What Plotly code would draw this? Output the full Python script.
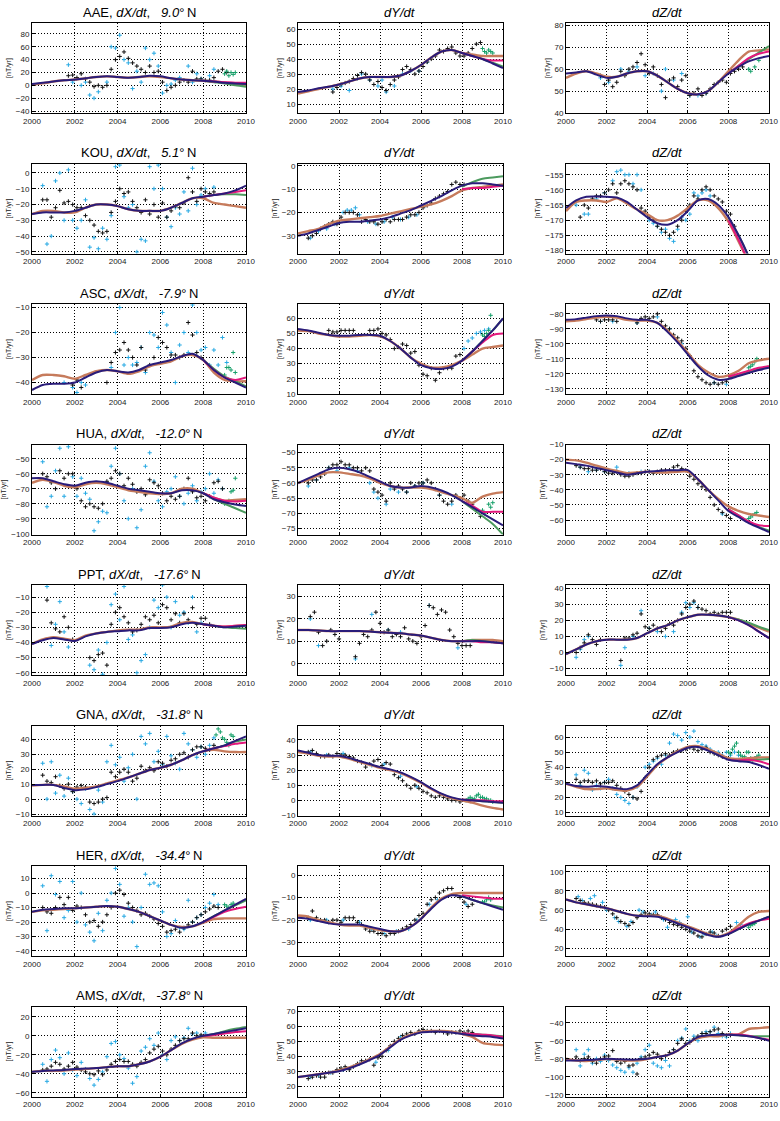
import plotly.graph_objects as go

# ---------------- shared axes data ----------------
LINE_T = [2000 + 0.5 * i for i in range(21)]
TAIL_T = [2008.0, 2008.5, 2009.0, 2009.5, 2010.0]
X_TICKS = [2000, 2002, 2004, 2006, 2008, 2010]
STATIONS = ["AAE", "KOU", "ASC", "HUA", "PPT", "GNA", "HER", "AMS"]
LATS = ["9.0", "5.1", "-7.9", "-12.0", "-17.6", "-31.8", "-34.4", "-37.8"]
COMPONENTS = ["dX/dt", "dY/dt", "dZ/dt"]
Y_UNIT = "[nT/yr]"

# ---------------- AAE ----------------
AAE_X_blue = [2, 4, 6, 8, 9, 11, 13, 14, 13, 12, 13, 15, 14, 11, 9, 8, 7, 6, 4, 3, 2]
AAE_X_brown = [1, 3, 6, 8, 9, 11, 13, 14, 13, 12, 13, 14, 13, 11, 9, 8, 7, 6, 4, 2, 1]
AAE_X_mag = [7, 6, 5, 4, 4]
AAE_X_grn = [7, 5, 3, 0, -2]
AAE_X_blk = [15, 16, 12, 18, 10, 5, -2, 0, -3, 0, 25, 40, 45, 52, 42, 35, 30, 25, 20, 30, 20, 22, 5, -8, -3, 0, 5, 8, 5, 22, 10, 10, 8, 8, 12, 22, 25, 20]
AAE_X_cyn = [32, 5, None, 0, 5, -15, -20, -10, None, 5, 60, 58, 78, 40, 35, -5, 22, 5, 58, 40, 50, 30, -12, 0, 2, 8, 12, None, 30, 5, 18, 10, None, 15, 25]
AAE_X_gp = [18, 22, 15, 20, 17, 20]
AAE_X_t0 = [2001.7, 2001.7, 2009.0]

AAE_Y_blue = [18, 19, 20.5, 21.5, 23, 25, 27, 28, 28, 28, 29, 32, 36, 41, 45, 46, 44, 42, 40, 37, 34]
AAE_Y_brown = [17, 18.5, 20, 21.5, 23, 25, 27, 28, 28, 28, 29, 32, 36, 41, 45, 46, 44, 43, 42, 42, 42]
AAE_Y_mag = [44, 42, 40, 39, 39]
AAE_Y_grn = [44, 42, 40, 37.5, 35]
AAE_Y_blk = [18, 21, 23, 24, 25, 27, 29, 31, 30, 26, 23, 25, 21, 19, 23, 26, 28, 33, 35, 33, 30, 32, 35, 38, 40, 42, 46, 45, 47, 48, 44, 42, 42, 44, 47, 50, 51]
AAE_Y_cyn = [20, None, 22, None, 19, None, 27, 30, None, 26, None, 22, 26, 18, None, 22, None, 30, None, 32, None, 32, None, 38]
AAE_Y_gp = [47, 45, 44, 46, 45, 44]
AAE_Y_t0 = [2001.7, 2001.7, 2009.0]

AAE_Z_blue = [58, 58.5, 59, 57.5, 56, 56.5, 58, 59, 59, 57, 54, 51, 49, 48.5, 50, 54, 58, 61, 63.5, 65, 66]
AAE_Z_brown = [56, 58, 59, 58, 56.5, 56.5, 58, 59, 59, 57, 54, 51, 49, 48.5, 50, 54, 59, 64, 68, 68.5, 69]
AAE_Z_mag = [58, 61.5, 65, 67, 68]
AAE_Z_grn = [58, 61.5, 64.5, 67.5, 70.5]
AAE_Z_blk = [57, 53, 55, 52, 54, 59, 57, 60, 61, 63, 67, 62, 58, 61, 57, 53, 47, 55, 56, 52, 55, 57, 48, 49, 51, 48, 49, 51, 53, 54, 55, 54, 58, 59, 60, 61]
AAE_Z_cyn = [56, None, 54, None, None, 60, None, 59, None, 61, None, 57, None, 58, None, 50, 60, None, 55, None, 58, None, 48, None, 48, None, 49]
AAE_Z_gp = [60, 59, None, 61, None, 64]
AAE_Z_t0 = [2001.7, 2001.7, 2009.0]

# ---------------- KOU ----------------
KOU_X_blue = [-26, -25, -25, -25, -24, -22, -20, -20, -21, -23, -24, -24, -24, -22, -19, -16, -15, -14, -13, -11, -8]
KOU_X_brown = [-26, -24, -24, -25, -25, -22, -20, -20, -21, -23, -24, -24, -24, -22, -19, -16, -16, -19, -20, -21, -22]
KOU_X_mag = [-15, -14, -13, -12, -11]
KOU_X_grn = [-15, -14, -13.5, -13.5, -14]
KOU_X_blk = [-17, -17, -28, -22, -11, -19, -18, -20, -22, -22, -27, -30, -33, -37, -38, -37, -25, -18, -10, -13, -12, -18, -22, -25, -17, -26, -20, -28, -19, -28, -24, -21, -22, -19, -3, -12, -18, -10, -12, -13, -12]
KOU_X_cyn = [-8, -45, -40, -5, 0, -30, 2, -30, -35, -30, -17, -47, -41, -48, -35, -42, -27, 4, 5, -15, -22, -20, -50, -42, -43, 4, -10, 5, -10, -28, -34, -22, -26, -12, -24, 3, -20, -14, -10, -14, -9]
KOU_X_gp = []
KOU_X_t0 = [2000.5, 2000.5, 2009.0]

KOU_Y_blue = [-30, -29, -27.5, -26, -24.5, -24, -24, -23.5, -23, -22, -20.5, -19, -17, -15, -13, -10.5, -8.5, -7.5, -7.5, -8, -8.5]
KOU_Y_brown = [-29, -28, -27, -25, -23.5, -23, -22.5, -22, -21.5, -20.5, -19.5, -18.5, -17.5, -16.5, -15, -13, -10.5, -9.5, -9, -8.5, -8]
KOU_Y_mag = [-10, -9.5, -9.5, -9, -8.5]
KOU_Y_grn = [-9, -7, -5.5, -5, -4.5]
KOU_Y_blk = [-31, -30, -29, -27, -26, -25, -24, -25, -22, -20, -20, -20, -21, -24, -23, -24, -24, -25, -24, -23, -24, -23, -23, -23, -22, -21, -21, -20, -18, -17, -16, -14, -13, -12, -11, -8, -7, -8, -8]
KOU_Y_cyn = [-31, None, -28, None, -27, None, -25, None, -20, -19, -19, -18, -21, None, -24, None, -25, None, -24, None, -22, None, -23, None, -22, None, -21, None, -17]
KOU_Y_gp = []
KOU_Y_t0 = [2000.5, 2000.6, 2009.0]

KOU_Z_blue = [-166, -163.5, -162.3, -162.2, -162.3, -162.5, -164, -166.5, -169, -171, -171.5, -170, -167, -163.5, -163, -165, -169, -175, -182, -190, -198]
KOU_Z_brown = [-167, -164, -163.5, -163.5, -164, -162.8, -164.5, -166.5, -168, -170, -170, -168.5, -166, -163.5, -163.5, -166, -170.5, -177, -184, -192, -200]
KOU_Z_mag = [-170, -176.5, -184, -192, -200]
KOU_Z_grn = [-169, -175, -182, -190, -198]
KOU_Z_blk = [-169, -165, -166, -163, -162, -162, -161, -160, -158, -161, -158, -157, -158, -159, -160, -166, -167, -169, -170, -172, -173, -174, -175, -174, -172, -170, -167, -165, -162, -163, -160, -159, -160, -162, -163, -164, -167, -168, -172]
KOU_Z_cyn = [-165, None, -168, -168, None, -163, None, -161, None, -157, -154, -153.5, -155, -155, -158, -155, -160, None, -170, -171, -172, -174, -173, -176, -177, -173, -169, -170, -168, -161, -162, -161, -160, -162]
KOU_Z_gp = []
KOU_Z_t0 = [2000.7, 2000.5, 2009.0]

# ---------------- ASC ----------------
ASC_X_blue = [-43, -41, -40.5, -40.5, -40, -38, -36, -35, -35.5, -36, -35, -33, -32, -31, -29.5, -28.5, -31, -35, -38, -40, -42]
ASC_X_brown = [-39, -37, -37, -37.5, -38.5, -37, -35.5, -35, -35.5, -36.5, -35.5, -33.5, -32.5, -31.5, -29.5, -29, -31, -36, -39, -39.5, -39.5]
ASC_X_mag = [-31, -35, -38, -39, -38]
ASC_X_grn = [-31, -34.5, -37.5, -39.5, -41.5]
ASC_X_blk = [-41, -39, -42, None, None, None, None, None, -40, -32, -28, -27, -24, -27, -30, -33, -26, -35, -33, -30, -22, -24, -26, -29, -29, -30, -29, -16, -21, -28, -30]
ASC_X_cyn = [-40, None, -42, -44, -40, -41, None, None, None, None, None, -34, -20, -10, -33, -30, -33, -32, -26, -36, -20, -21, -26, -12, -17, -28, -40, -25, -20, -28, -9, -20, -27, -26, -33, -27, -33, -22, -32]
ASC_X_gp = [-37, -34, -34, -35, -28, -36]
ASC_X_t0 = [2001.9, 2001.5, 2009.0]

ASC_Y_blue = [53, 52, 50.5, 49, 48.5, 48.5, 49, 49, 48.5, 45, 40, 34, 29, 27, 26.5, 28, 32, 38, 45, 52, 60]
ASC_Y_brown = [52, 51.5, 50, 49, 48, 48, 48.5, 49, 48, 45, 40, 34, 30, 27.5, 27.5, 29, 32, 36, 40, 41, 42]
ASC_Y_mag = [32, 38, 44, 49, 50]
ASC_Y_grn = [32, 38, 45, 52, 60]
ASC_Y_blk = [52, 51, 51, 52, 52, 52, 52, None, None, None, 52, 52, 53, 50, 49, 46, 40, 41, 43, 42, 37, 38, 29, 23, 22, 27, 19, 24, 27, 27, 27, 35, 36]
ASC_Y_cyn = [40, 45, 47, 50, 51, 52, 53]
ASC_Y_gp = [49, 48, 50, 52, 62]
ASC_Y_t0 = [2001.5, 2008.1, 2009.0]

ASC_Z_blue = [-84, -83.5, -82.5, -81.5, -81, -81.5, -83, -84, -84, -86, -92, -99, -107, -115, -121, -124, -123.5, -121.5, -119.5, -117.5, -116]
ASC_Z_brown = [-85, -84.5, -83.5, -82.5, -82, -82.5, -84, -84.5, -84.5, -86, -91, -98, -106, -114, -119, -122, -121, -118, -113, -111, -110]
ASC_Z_mag = [-122, -120, -118, -116, -115]
ASC_Z_grn = [-123, -121, -119, -117, -115]
ASC_Z_blk = [-84, -85, -84, -84, -84, -85, None, None, None, None, -86, -83, -82, -83, -82, -80, -85, -88, -90, -94, -96, -98, -103, -108, -118, -122, -124, -126, -127, -126, -127, -126, -125]
ASC_Z_cyn = [-85, None, None, -85, None, None, None, None, None, -86, None, None, None, None, -82, None, None, -90, None, None, -100, None, None, None, None, None, None, None, -126, None, None, -127]
ASC_Z_gp = [-116, -115, -114, -112, -110]
ASC_Z_t0 = [2001.5, 2001.7, 2009.0]

# ---------------- HUA ----------------
HUA_X_blue = [-63, -63, -65, -67, -68, -66, -65, -66, -68, -70, -71, -72, -73, -73, -71, -71, -73, -77, -79, -80.5, -81.5]
HUA_X_brown = [-66, -64, -65.5, -68, -69, -67, -66, -67, -69, -71, -72, -73, -73.5, -73, -70, -70, -73, -76, -78, -77.5, -77]
HUA_X_mag = [-73, -76, -78, -78.5, -78]
HUA_X_grn = [-73, -77, -80, -83, -86]
HUA_X_blk = [-60, -62, -66, -70, -58, -63, -60, -60, -70, -78, -82, -80, -82, -83, -80, -65, -63, -58, -60, -68, -63, -67, -72, -70, -74, -64, -66, -68, -73, -78, -75, -77, -75, -70, -63, -72, -76, -75, -78, -75, -66, -65, -70]
HUA_X_cyn = [-52, -82, -75, -58, -43, -75, -42, -62, -75, -63, -73, -77, -98, -92, -85, -86, -55, -43, -60, -78, -90, -70, -96, -84, -55, -46, -65, -78, -82, -72, -70, -62, -75, -80, -73, -68, -78, -72, -70, -60, -73, -64, -70]
HUA_X_gp = [-80, -79, -78, -72, -71, -63]
HUA_X_t0 = [2000.5, 2000.5, 2009.0]

HUA_Y_blue = [-60, -58.5, -57, -55.5, -55, -55.5, -56.5, -58, -59.5, -61, -61.5, -61.5, -61, -61.5, -62.5, -64, -66, -68, -70, -72, -74]
HUA_Y_brown = [-60, -59, -57.5, -56.5, -56.5, -57, -57.5, -58.5, -60, -61, -61.5, -61.5, -61.5, -62, -63, -64, -65, -66.5, -64.5, -63.5, -63]
HUA_Y_mag = [-66, -67.5, -69.5, -69.5, -69.5]
HUA_Y_grn = [-66, -68.5, -71, -73.5, -77]
HUA_Y_blk = [-60, -59, -59, -58, -57, -55, -54, -54, -53, -54, -54, -55, -55, -56, -55, -56, -62, -63, -64, -66, -60, -62, -61, -62, -63, -60, -61, -60, -60, -59, -60, -62, -64, -66, -67, -66, -64, -65, -64, -66, -67, -69, -71]
HUA_Y_cyn = [-61, None, -59, None, None, -55, None, -56, None, None, -55, None, -56, None, None, -60, -63, -65, None, -67, -62, None, -63, None, -63, None, -61, None, -60, None, None, None, -64, None, None, -67]
HUA_Y_gp = [-69, -70, None, -67, -68, -66.5]
HUA_Y_t0 = [2000.5, 2000.5, 2009.0]

HUA_Z_blue = [-22, -23, -24, -25.5, -27, -28.5, -30, -29, -28, -27.5, -27, -27, -27, -33, -40, -47, -54, -58, -62, -65, -68]
HUA_Z_brown = [-20, -20.5, -22, -24, -26, -27.5, -29, -28.5, -28, -28.5, -28.5, -28, -28, -33, -40, -46, -51, -54, -56, -57, -58]
HUA_Z_mag = [-53, -57, -61, -63.5, -64]
HUA_Z_grn = [-53, -57, -61, -64.5, -67]
HUA_Z_blk = [-24, -25, -26, -26, -27, -27, -26, -28, -29, -29, -28, -30, -31, -31, -30, -29, -29, -28, -28, -29, -28, -27, -27, -27, -25, -24, -26, -27, -31, -33, -36, -38, -40, -45, -50, -53, -55, -57, -59]
HUA_Z_cyn = [None, -25, None, -28, None, -27, None, -28, None, None, -25, None, None, -29, None, None, -28, None, -28, None, None, -28, None, None, -27, None, None, None, None, None, None, None, None, None, None, None, -56]
HUA_Z_gp = [-59, -58, -57, -56, -55]
HUA_Z_t0 = [2000.5, 2000.5, 2009.0]

# ---------------- PPT ----------------
PPT_X_blue = [-41, -38.5, -37, -38, -39, -36, -34, -33, -32.5, -32, -32, -30.5, -30.5, -30, -28, -27, -28, -29, -30, -29.5, -29]
PPT_X_brown = [-41, -38, -36.5, -37.5, -38.5, -35.5, -34, -33, -32, -31.5, -31.5, -30, -30, -29.5, -27, -26.5, -28, -29, -29.5, -29, -28.5]
PPT_X_mag = [-28, -29, -29.5, -29, -28.5]
PPT_X_grn = [-28, -29, -30, -30.5, -31]
PPT_X_blk = [-12, -27, -31, -33, -23, -30, -38, None, None, None, -50, -52, -48, -47, -55, -28, -20, -17, -23, -27, -33, -32, -28, -23, -25, -22, -27, -15, -17, -25, -21, -27, -21, -25, -17, -28, -24, -24, -28]
PPT_X_cyn = [-3, -42, -28, -13, -33, -43, None, None, None, None, -55, -58, -45, -61, -40, -15, -8, -25, -3, -38, -35, -60, -52, -48, -30, -12, -17, -2, -10, -30, -13, -22, -20, -27, -10, -33, -27]
PPT_X_gp = []
PPT_X_t0 = [2000.7, 2000.7, 2009.0]

PPT_Y_blue = [15, 15, 14.8, 14.5, 14.5, 14.5, 14.5, 14.3, 14, 13.8, 13.5, 13, 12.5, 11.5, 10.5, 10, 10, 10, 10, 9.5, 9]
PPT_Y_brown = [15, 15, 14.8, 14.5, 14.5, 14.5, 14.5, 14.3, 14, 13.8, 13.5, 13, 12.5, 11.5, 10.5, 10, 10, 10.5, 10.5, 10.5, 10]
PPT_Y_mag = [10, 10, 9.5, 9.5, 9]
PPT_Y_grn = [10, 10.5, 10, 9.5, 9]
PPT_Y_blk = [21, 23, 14, 8, 10, 15, 13, 11, None, None, None, 3, 9, 13, 12, 15, 23, 18, 14, 15, 12, 13, 12, 16, 11, 10, 9, 12, 17, 26, 25, 22, 24, 23, 15, 12, 9, 8, 8, 8]
PPT_Y_cyn = [20, None, 8, None, None, None, None, None, None, None, None, 2, None, None, None, 22, None, None, None, 15, None, None, 14, None, None, None, None, None, None, 26, None, None, None, None, None, None, 7]
PPT_Y_gp = []
PPT_Y_t0 = [2000.6, 2000.6, 2009.0]

PPT_Z_blue = [-1, 2, 5, 7, 8, 8, 8, 9, 12, 15, 17, 20, 22, 23.5, 23.5, 23, 22, 20, 17, 13, 9]
PPT_Z_brown = [-1, 2, 5, 7, 8, 8, 8, 9, 12, 15, 17, 20, 22, 23.5, 23.5, 23, 22, 20.5, 18, 15.5, 13]
PPT_Z_mag = [22, 20, 17, 13, 9]
PPT_Z_grn = [22, 20.5, 18.5, 16, 14]
PPT_Z_blk = [0, 3, 6, 11, 8, 5, 8, None, None, None, None, -5, 9, 9, 11, 12, 24, 16, 15, 17, 15, 13, 15, 18, 17, 20, 24, 28, 30, 32, 28, 27, 26, 24, 25, 24, 25, 25, 25]
PPT_Z_cyn = [-3, 2, 8, 10, None, None, None, None, None, None, None, -8, 3, None, 10, None, 26, None, 15, None, 13, None, 10, None, 13, None, 25, 31, 28, 31, 28]
PPT_Z_gp = []
PPT_Z_t0 = [2000.5, 2000.5, 2009.0]

# ---------------- GNA ----------------
GNA_X_blue = [9.5, 9.5, 9.5, 7.5, 6, 6.5, 8, 10, 12, 14.5, 17, 19.5, 21, 23, 26, 29.5, 32, 34, 36, 39, 42]
GNA_X_brown = [9, 9.5, 9.5, 8.5, 7, 7.5, 8.5, 10.5, 12.5, 14.5, 17, 19.5, 21, 23, 26, 29.5, 32, 33, 32, 31.5, 31.5]
GNA_X_mag = [32, 34, 35.5, 37, 38]
GNA_X_grn = [32, 34, 36, 38.5, 40]
GNA_X_blk = [16, 12, 11, 15, 9, 7, 10, 5, 8, 9, 8, -2, -3, -2, 0, 1, 18, 15, 18, 20, 18, 12, 14, 22, 19, 21, 19, 25, 24, 22, 26, 27, 30, 31, 28, 33, 35, 35, 34, 33, 36]
GNA_X_cyn = [24, 0, 25, 4, 16, 2, 14, 5, 0, -3, 7, -7, -10, 6, -2, 25, 36, 23, 28, 12, 21, 30, 0, 42, 37, 44, 25, 32, 23, 42, 29, 24, 20, 44, 37, 33, 28, 35, 30, 36, 41]
GNA_X_gp = [43, 47, 45, 41, 40, 38, 36, 43, 42]
GNA_X_t0 = [2000.5, 2000.5, 2008.6]

GNA_Y_blue = [33, 31.5, 30, 29.5, 29.5, 28, 26, 24, 22, 20.5, 18.5, 15.5, 12, 8, 4.5, 2, 0.5, 0, -0.5, -1, -1.5]
GNA_Y_brown = [32, 31, 29.5, 29, 29, 27.5, 25.5, 23.5, 21.5, 20, 18, 15, 11.5, 7.5, 4, 1.5, 0, -1.5, -3.5, -5, -6]
GNA_Y_mag = [0.5, 0, 0, -0.5, -0.5]
GNA_Y_grn = [0.5, 0, -0.5, -1, -1.5]
GNA_Y_blk = [32, 33, 31, 29, 29, 30, 29, 31, 30, 30, 29, 28, 26, 25, 22, 24, 26, 27, 23, 25, 24, 17, 15, 13, 10, 8, 10, 8, 6, 5, 3, 2, 3, 2, 1, 0, 0, -1]
GNA_Y_cyn = [32, None, None, None, 30, None, None, None, 31, None, None, None, None, None, None, 23, None, None, 24, None, None, None, 16, None, None, None, 9]
GNA_Y_gp = [0, 1, 2, 1, 1, 3, 4, 2, 2, 1, 1, 0, 0, -1]
GNA_Y_t0 = [2000.5, 2000.6, 2008.2]

GNA_Z_blue = [29, 27.5, 27, 27.5, 27, 26, 25.5, 28, 35, 42, 46.5, 50, 53, 53.5, 51, 48, 45, 44, 43.5, 41.5, 39]
GNA_Z_brown = [29, 27, 25.5, 25.5, 26, 25, 24.5, 27, 34, 41.5, 46.5, 50.5, 53.5, 54, 52, 49, 46, 45.5, 46, 46.5, 46.5]
GNA_Z_mag = [45, 44.5, 45, 44, 42]
GNA_Z_grn = [45, 44.5, 44.5, 45, 45.5]
GNA_Z_blk = [32, 30, 31, 31, 30, 31, 29, 30, 30, 31, 28, 26, 24, 22, 20, 19, 24, 33, 40, 45, 47, 48, 49, 48, 50, 51, 51, 52, 53, 52, 51, 52, 53, 50, 49, 48, 47, 46]
GNA_Z_cyn = [35, 28, 38, 36, 25, 28, 26, 30, 32, 26, 22, 20, 18, 16, 20, 27, 30, 40, 42, 44, 46, 42, 48, 56, 62, 61, 58, 63, 60, 64, 57, 55, 54, 52, 50, 50, 48, 50, 48, 50, 48]
GNA_Z_gp = [50, 49, 52, 54, 56, 50, 48, 47, 47, 50, 50, 46, 45, 46, 47, 48]
GNA_Z_t0 = [2000.5, 2000.5, 2008.0]

# ---------------- HER ----------------
HER_X_blue = [-13, -11.5, -11, -10.5, -10.5, -10, -9.5, -9, -9.5, -11, -13, -16, -19, -22, -24, -23, -20, -16, -12, -8, -4]
HER_X_brown = [-13, -12, -11.5, -11, -10.5, -10, -9.5, -9, -9.5, -11, -13, -16, -19, -22, -23.5, -23, -20.5, -18, -17.5, -17.5, -17.5]
HER_X_mag = [-20, -16.5, -13, -11, -9.5]
HER_X_grn = [-20, -16, -12, -8.5, -5]
HER_X_blk = [-10, -13, -14, -10, -3, -8, -3, -12, -9, -10, -15, -20, -19, -23, -20, -15, -10, 0, 2, -1, -7, -10, -12, -15, -14, -16, -18, -21, -23, -27, -26, -25, -27, -24, -22, -20, -17, -15, -13, -11, -9, -10]
HER_X_cyn = [5, -26, 12, -1, 8, -17, -12, 8, -20, 0, -22, -27, -33, -14, -26, -5, 0, 17, 6, -16, -10, -20, -37, -10, 13, 6, 7, 5, -13, -30, -28, -19, -24, -25, -5, -20, -17, -15, -10, -7, -1, -8]
HER_X_gp = [-8, -9, -10, -8, -7]
HER_X_t0 = [2000.5, 2000.5, 2009.0]

HER_Y_blue = [-19, -19.5, -20.5, -21.5, -22, -22, -22, -23, -24, -25, -25, -23, -19.5, -15, -11, -9, -9.5, -11, -12.5, -14, -15.5]
HER_Y_brown = [-18, -18.5, -20, -21, -22, -22.5, -22.5, -23.5, -24.5, -25, -25, -23, -19.5, -14.5, -10.5, -8.5, -8, -8, -8, -8, -8]
HER_Y_mag = [-9, -9.5, -10, -10.5, -10.5]
HER_Y_grn = [-9.5, -11, -12.5, -13.5, -14.5]
HER_Y_blk = [-19, -16, -19, -20, -20, -21, -20, -20, -21, -19, -19, -19, -21, -22, -24, -25, -25, -26, -26, -27, -26, -26, -25, -24, -23, -22, -20, -18, -17, -13, -11, -10, -8, -7, -6, -6, -9, -10, -12, -14, -13]
HER_Y_cyn = [-20, None, None, None, -20, None, None, None, -20, None, None, None, -21, None, None, -24, None, None, -26, None, None, -25, None, None, -24, None, -20, None, None, -13, None, -11, None, None, None, None, None, None, -13]
HER_Y_gp = [-12, -12, -11, -10, -11]
HER_Y_t0 = [2000.5, 2000.6, 2009.0]

HER_Z_blue = [71, 68, 66, 64, 62, 59, 56, 54, 53.5, 53, 50, 46, 42, 38, 34, 32, 35, 40, 45, 49, 53]
HER_Z_brown = [71, 68, 66, 64, 62, 59, 56, 54, 54, 54, 51, 47, 43, 39, 35, 32.5, 36, 44, 53, 58, 59]
HER_Z_mag = [35, 41, 46, 49, 51]
HER_Z_grn = [35, 40, 45, 49, 53]
HER_Z_blk = [72, 70, 68, 67, 66, 65, 64, 63, 60, 56, 52, 48, 46, 44, 47, 52, 55, 57, 56, 55, 55, 52, 50, 47, 45, 44, 42, 40, 38, 36, 33, 32, 35, 37, 36, 33, 38, 40, 43]
HER_Z_cyn = [74, 70, None, 72, 75, None, 68, 60, None, 52, 48, None, 43, 48, None, 60, 58, None, 55, 58, None, 50, 42, None, 50, 47, None, 53, 37, None, 32, 35, None, 37, 33, None, None, None, None, 47, 45]
HER_Z_gp = [42, 44, 45, 46]
HER_Z_t0 = [2000.5, 2000.6, 2009.0]

# ---------------- AMS ----------------
AMS_X_blue = [-38, -37, -36.5, -36, -35, -34.5, -34, -33, -32, -32, -30, -27, -22, -15, -8, -3, 0, 2, 4, 6, 8]
AMS_X_brown = [-38, -37, -37, -36.5, -35.5, -35, -34, -33, -32, -32, -30, -27, -22, -15, -8.5, -4, -1.5, -2, -2, -2, -2]
AMS_X_mag = [0, 1, 2.5, 4, 5]
AMS_X_grn = [0, 2, 5, 7.5, 9.5]
AMS_X_blk = [-36, -35, -32, -28, -30, -35, -32, -28, -33, -36, -38, -40, -41, -37, -41, -36, -30, -27, -25, -27, -27, -30, -32, -28, -25, -18, -14, -11, -16, -20, -14, -10, -5, -3, -3, 3, 0, 1]
AMS_X_cyn = [-30, -48, -25, -15, -23, -40, -18, -36, -42, -28, -35, -45, -52, -46, -38, -22, -8, -6, -20, -24, -34, -50, -43, -16, -12, -3, -10, 3, -20, -25, -5, -1, -5, -2, 8, 2, 3, 0, 3]
AMS_X_gp = []
AMS_X_t0 = [2000.5, 2000.5, 2009.0]

AMS_Y_blue = [26, 27, 28, 29, 30, 32, 34.5, 37.5, 41, 46, 51, 54, 56, 56.5, 56.5, 56, 55, 54, 53.5, 53, 52]
AMS_Y_brown = [26, 27, 28, 29, 30.5, 32.5, 35, 38, 41.5, 46.5, 51.5, 54.5, 56.5, 57, 57, 56.5, 55, 53, 49, 48, 47.5]
AMS_Y_mag = [55.5, 55, 54.5, 54, 53]
AMS_Y_grn = [55.5, 55, 54.5, 54, 53.5]
AMS_Y_blk = [25, 26, 27, 26, 26, 29, 29, 31, 32, 33, 31, 33, 35, 37, 37, 38, 34, 39, 40, 44, 47, 50, 52, 54, 55, 56, 55, 57, 58, 57, 57, 56, 57, 56, 55, 56, 56, 57, 56, 57, 56]
AMS_Y_cyn = [26, None, 27, None, None, 29, None, None, 31, None, None, None, 35, None, None, None, 36, None, None, 44, None, None, 53]
AMS_Y_gp = []
AMS_Y_t0 = [2000.5, 2000.6, 2009.0]

AMS_Z_blue = [-82, -82, -81.5, -81, -80, -80.5, -81, -81, -80, -78, -76, -71, -63, -56, -54, -53.5, -53.5, -54, -55, -57, -60]
AMS_Z_brown = [-80, -82, -82.5, -81.5, -80.5, -81, -82, -82, -80.5, -78, -76, -71, -63, -57, -55, -55, -53, -53, -47, -46, -45]
AMS_Z_mag = [-53.5, -53, -54.5, -57, -59]
AMS_Z_grn = [-53.5, -54, -55, -55, -55]
AMS_Z_blk = [-78, -82, -80, -78, -83, -85, -80, -78, -77, -71, -83, -85, -83, -88, -87, -97, -80, -78, -76, -73, -75, -80, -77, -73, -70, -63, -58, -63, -62, -58, -55, -52, -52, -50, -48, -47, -52, -54, -54]
AMS_Z_cyn = [-70, -88, -75, -70, -85, -80, -83, -76, -82, -87, -90, -93, -95, -90, -95, -85, -78, -70, -65, -85, -88, -90, -82, -88, -70, -60, -57, -47, -60, -55, -60, -52, -50, -50, -45, -52, -55, -56, -52]
AMS_Z_gp = []
AMS_Z_t0 = [2000.5, 2000.5, 2009.0]

# ---------------- panel table (row by row) ----------------
G = globals()
PANELS = []
for s in STATIONS:
    for c in "XYZ":
        p = f"{s}_{c}_"
        PANELS.append(dict(blue=G[p + "blue"], brown=G[p + "brown"], mag=G[p + "mag"],
                           grn=G[p + "grn"], blk=G[p + "blk"], cyn=G[p + "cyn"],
                           gp=G[p + "gp"], t0=G[p + "t0"]))

# axis layout per panel: (ymin, ymax, dtick)
YAX = [
    (-43, 97, 20), (4, 64, 10), (40, 81, 10),
    (-51, 6, 10), (-37.6, 1, 10), (-181, -151.3, 5),
    (-44.6, -8.6, 10), (9.9, 69.5, 10), (-133.5, -73.4, 10),
    (-100.5, -40.5, 10), (-77, -47.3, 5), (-69.6, -10, 10),
    (-61.5, -2, 10), (-5.2, 35.2, 10), (-14, 42, 10),
    (-11, 49.3, 10), (-10, 49.5, 10), (8, 67.7, 10),
    (-43.5, 18.7, 10), (-36, 4, 10), (12, 106, 20),
    (-64, 31, 20), (13, 73.4, 10), (-122, -22, 20),
]

W, H = 780, 1121
COLS = [(32, 246), (298, 503), (566, 769)]      # page pixel columns
ROW_TOP0, ROW_STEP, PH = 23, 140.5, 90          # page pixel rows

BLUE = "#2a1c7a"
MAG = "#e3187c"
BROWN = "#c67b5c"
GREEN_L = "#4c9a5e"
CYAN = "#27a9e3"
BLACK = "#111111"
GREEN_P = "#17a06a"
FONT = "Liberation Sans, Arial, Helvetica, sans-serif"


def times(t0, step, n):
    return [round(t0 + step * i, 2) for i in range(n)]


def pts(color):
    return dict(symbol="cross-thin", size=3, line=dict(width=1, color=color))


fig = go.Figure()
annotations = []
for k, P in enumerate(PANELS):
    r, c = divmod(k, 3)
    n = k + 1
    xa = "x" if n == 1 else f"x{n}"
    ya = "y" if n == 1 else f"y{n}"
    fig.add_trace(go.Scatter(x=times(P["t0"][1], 0.2, len(P["cyn"])), y=P["cyn"], mode="markers",
                             marker=pts(CYAN), xaxis=xa, yaxis=ya, showlegend=False))
    fig.add_trace(go.Scatter(x=times(P["t0"][0], 0.2, len(P["blk"])), y=P["blk"], mode="markers",
                             marker=pts(BLACK), xaxis=xa, yaxis=ya, showlegend=False))
    if P["gp"]:
        fig.add_trace(go.Scatter(x=times(P["t0"][2], 0.1, len(P["gp"])), y=P["gp"], mode="markers",
                                 marker=pts(GREEN_P), xaxis=xa, yaxis=ya, showlegend=False))
    fig.add_trace(go.Scatter(x=LINE_T, y=P["brown"], mode="lines",
                             line=dict(color=BROWN, width=2.4, shape="spline", smoothing=0.8),
                             xaxis=xa, yaxis=ya, showlegend=False))
    fig.add_trace(go.Scatter(x=TAIL_T, y=P["grn"], mode="lines",
                             line=dict(color=GREEN_L, width=2, shape="spline", smoothing=0.8),
                             xaxis=xa, yaxis=ya, showlegend=False))
    fig.add_trace(go.Scatter(x=TAIL_T, y=P["mag"], mode="lines",
                             line=dict(color=MAG, width=2, shape="spline", smoothing=0.8),
                             xaxis=xa, yaxis=ya, showlegend=False))
    fig.add_trace(go.Scatter(x=LINE_T, y=P["blue"], mode="lines",
                             line=dict(color=BLUE, width=2, shape="spline", smoothing=0.8),
                             xaxis=xa, yaxis=ya, showlegend=False))

    x0, x1 = COLS[c]
    top = ROW_TOP0 + ROW_STEP * r
    bot = top + PH
    ymin, ymax, dt = YAX[k]
    axis_common = dict(showline=True, linecolor="black", linewidth=1, mirror=True,
                       showgrid=True, gridcolor="black", griddash="1px,2px", gridwidth=1,
                       zeroline=False, ticks="inside", ticklen=3, tickcolor="black",
                       automargin=False,
                       tickfont=dict(family=FONT, size=8, color="#222"))
    fig.layout[("xaxis" if n == 1 else f"xaxis{n}")] = dict(
        axis_common, domain=[x0 / W, x1 / W], anchor=ya, range=[2000, 2010],
        tickmode="array", tickvals=X_TICKS, ticktext=[str(v) for v in X_TICKS])
    fig.layout[("yaxis" if n == 1 else f"yaxis{n}")] = dict(
        axis_common, domain=[1 - bot / H, 1 - top / H], anchor=xa, range=[ymin, ymax],
        tick0=0, dtick=dt,
        title=dict(text=Y_UNIT, font=dict(family=FONT, size=7, color="#222"), standoff=3))
    if c == 0:
        ttl = f"{STATIONS[r]}, <i>{COMPONENTS[c]}</i>,\u00a0\u00a0\u00a0<i>{LATS[r]}</i>\u00b0\u2009N"
    else:
        ttl = f"<i>{COMPONENTS[c]}</i>"
    annotations.append(dict(text=ttl, x=(x0 + x1) / 2 / W, y=1 - (top - 11) / H,
                            xref="paper", yref="paper", showarrow=False,
                            xanchor="center", yanchor="middle",
                            font=dict(family=FONT, size=13, color="black")))

fig.update_layout(template="none", width=W, height=H, margin=dict(l=0, r=0, t=0, b=0, pad=0),
                  paper_bgcolor="white", plot_bgcolor="white",
                  annotations=annotations, showlegend=False)
fig.write_html("out.html", config={"displayModeBar": False},
               post_script="document.body.style.margin='0';document.body.style.padding='0';"
                           "document.body.style.overflow='hidden';")
